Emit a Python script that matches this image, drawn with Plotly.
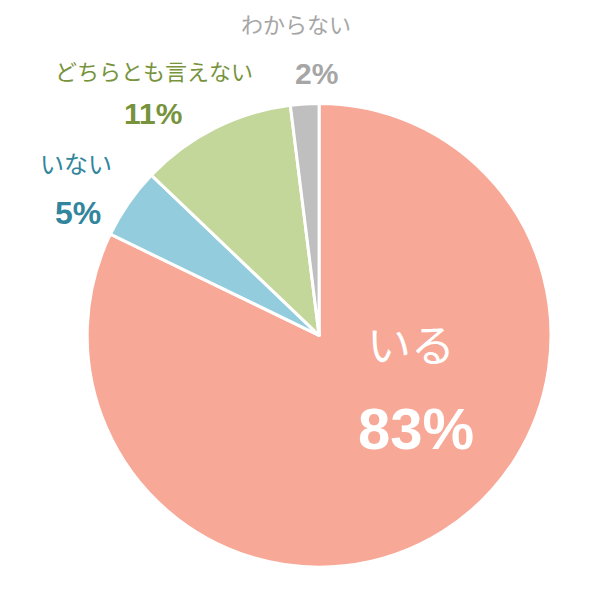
import plotly.graph_objects as go

labels = ["いる", "いない", "どちらとも言えない", "わからない"]
values = [83, 5, 11, 2]
colors = ["#F7A896", "#93CDDD", "#C4D79B", "#BFBFBF"]
text_colors = ["#FFFFFF", "#31859C", "#77933C", "#A6A6A6"]

fig = go.Figure(go.Pie(
    labels=labels, values=values, sort=False, direction="clockwise", rotation=0,
    marker=dict(colors=colors, line=dict(color="white", width=3)),
    textinfo="none", hoverinfo="none", showlegend=False,
    domain=dict(x=[0.132, 0.905], y=[0.068, 0.841]),
))

font = "Noto Sans CJK JP"
spots = [
    (0, (403, 335), (408, 420), 44, 58),
    (1, (68, 155), (70, 205), 24, 32),
    (2, (146, 62), (145, 105), 22, 30),
    (3, (288, 15), (308, 66), 22, 30),
]
ann = []
for i, (nx, ny), (px, py), ns, ps in spots:
    ann.append(dict(x=nx/600, y=1-ny/600, xref="paper", yref="paper", text=labels[i],
                    xanchor="center", yanchor="middle",
                    showarrow=False, font=dict(family=font, size=ns, color=text_colors[i])))
    ann.append(dict(x=px/600, y=1-py/600, xref="paper", yref="paper", text=f"<b>{values[i]}%</b>",
                    xanchor="center", yanchor="middle",
                    showarrow=False, font=dict(family="Liberation Sans", size=ps, color=text_colors[i])))

fig.update_layout(width=600, height=600, margin=dict(l=0, r=0, t=0, b=0),
                  paper_bgcolor="white", annotations=ann)
fig.write_html("out.html")
